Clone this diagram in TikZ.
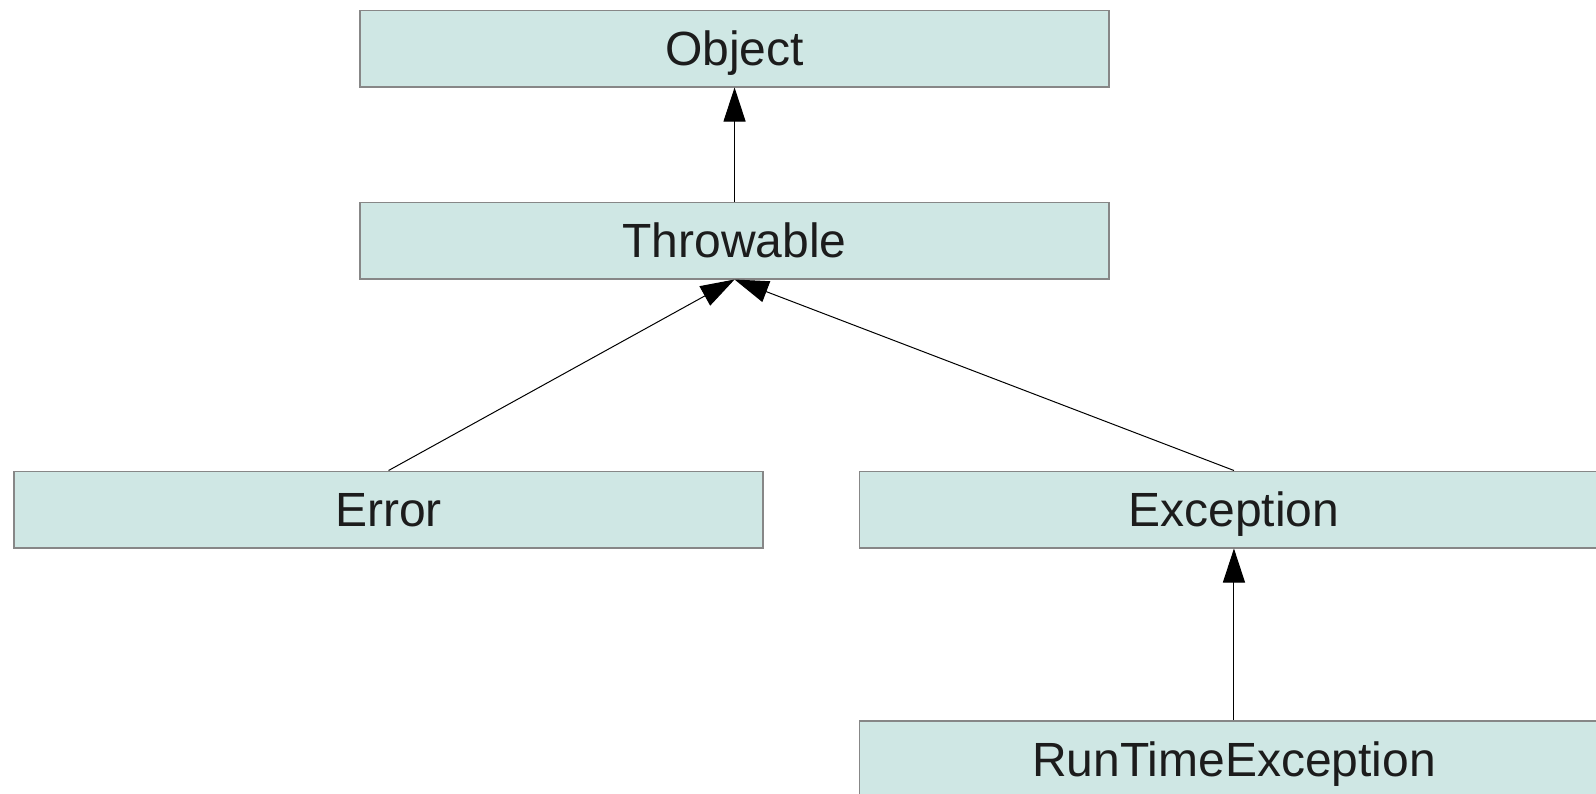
\documentclass[tikz,border=0pt]{standalone}
\usepackage{fontspec}
\setmainfont{Liberation Sans}
\usetikzlibrary{arrows.meta}
\definecolor{boxfill}{HTML}{CFE7E4}
\definecolor{boxline}{HTML}{878787}
\definecolor{txt}{HTML}{1C1C1C}
\tikzset{
  cls/.style={draw=boxline, line width=0.75pt, fill=boxfill, anchor=north west,
    minimum width=374.5pt, minimum height=38.25pt, inner sep=0pt,
    text height=17pt, text depth=0pt,
    text=txt, font=\fontsize{24pt}{28pt}\selectfont},
  inh/.style={line width=0.5pt, -{Triangle[length=17pt,width=11pt]}}
}
\begin{document}
\begin{tikzpicture}[x=0.5pt,y=-0.5pt]
\useasboundingbox (0,0) rectangle (1596,793);
\clip (0,0) rectangle (1596,793);
\node[cls] (obj) at (359.3,9.5) {Object};
\node[cls] (thr) at (359.3,201.5) {Throwable};
\node[cls] (err) at (13.3,470.5) {Error};
\node[cls] (exc) at (858.7,470.5) {Exception};
\node[cls] (rte) at (858.7,720) {RunTimeException};
\draw[inh] (thr.north) -- (obj.south);
\draw[inh] (err.north) -- (thr.south);
\draw[inh] (exc.north) -- (thr.south);
\draw[inh] (rte.north) -- (exc.south);
\end{tikzpicture}
\end{document}
